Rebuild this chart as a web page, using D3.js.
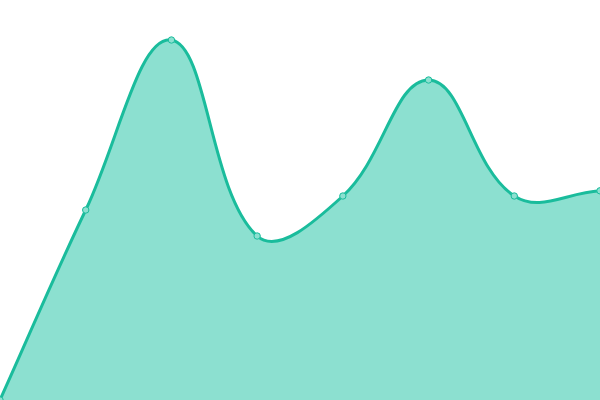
<!DOCTYPE html>
<html>
<head>
<meta charset="utf-8">
<script src="https://cdn.jsdelivr.net/npm/d3@7"></script>
<style>
  html, body { margin: 0; padding: 0; background: #fff; }
  svg { display: block; }
</style>
</head>
<body>
<svg width="600" height="400"></svg>
<script>
// data
var labels = ["1", "2", "3", "4", "5", "6", "7", "8"];
var values = [0, 47.5, 90, 41, 51, 80, 51, 52.3];

var svg = d3.select("svg"),
    width = +svg.attr("width"),
    height = +svg.attr("height");

var x = d3.scalePoint().domain(labels).range([0, width]);
var y = d3.scaleLinear().domain([0, 100]).range([height, 0]);

var pts = labels.map(function(d, i) { return { k: d, v: values[i] }; });

// distance weighted spline (control points scaled by neighbour distance)
function Spline(context, t) { this._context = context; this._t = t; }
Spline.prototype = {
  areaStart: function() { this._line = 0; },
  areaEnd: function() { this._line = NaN; },
  lineStart: function() { this._x = []; this._y = []; },
  point: function(px, py) { this._x.push(+px); this._y.push(+py); },
  lineEnd: function() {
    var c = this._context, xs = this._x, ys = this._y, n = xs.length, t = this._t, i;
    if (n) {
      if (this._line) c.lineTo(xs[0], ys[0]); else c.moveTo(xs[0], ys[0]);
      var cp = [];
      for (i = 0; i < n; i++) {
        var a = Math.max(i - 1, 0), b = Math.min(i + 1, n - 1);
        var d01 = Math.hypot(xs[i] - xs[a], ys[i] - ys[a]),
            d12 = Math.hypot(xs[b] - xs[i], ys[b] - ys[i]),
            s = d01 + d12 || 1,
            fa = t * d01 / s, fb = t * d12 / s,
            dx = xs[b] - xs[a], dy = ys[b] - ys[a];
        cp.push([xs[i] - fa * dx, ys[i] - fa * dy, xs[i] + fb * dx, ys[i] + fb * dy]);
      }
      for (i = 1; i < n; i++) {
        c.bezierCurveTo(cp[i - 1][2], cp[i - 1][3], cp[i][0], cp[i][1], xs[i], ys[i]);
      }
    }
    if (this._line || (this._line !== 0 && n === 1)) c.closePath();
    this._line = 1 - this._line;
  }
};
function curveSpline(context) { return new Spline(context, 0.4); }

var area = d3.area()
    .curve(curveSpline)
    .x(function(d) { return x(d.k); })
    .y0(height)
    .y1(function(d) { return y(d.v); });

var line = d3.line()
    .curve(curveSpline)
    .x(function(d) { return x(d.k); })
    .y(function(d) { return y(d.v); });

svg.append("path")
    .datum(pts)
    .attr("fill", "#8ce0d0")
    .attr("d", area);

svg.append("path")
    .datum(pts)
    .attr("fill", "none")
    .attr("stroke", "#1abc9c")
    .attr("stroke-width", 3)
    .attr("stroke-linejoin", "round")
    .attr("d", line);

svg.selectAll("circle")
    .data(pts)
  .enter().append("circle")
    .attr("cx", function(d) { return x(d.k); })
    .attr("cy", function(d) { return y(d.v); })
    .attr("r", 3.2)
    .attr("fill", "#8ce0d0")
    .attr("stroke", "#1abc9c")
    .attr("stroke-width", 1);
</script>
</body>
</html>
